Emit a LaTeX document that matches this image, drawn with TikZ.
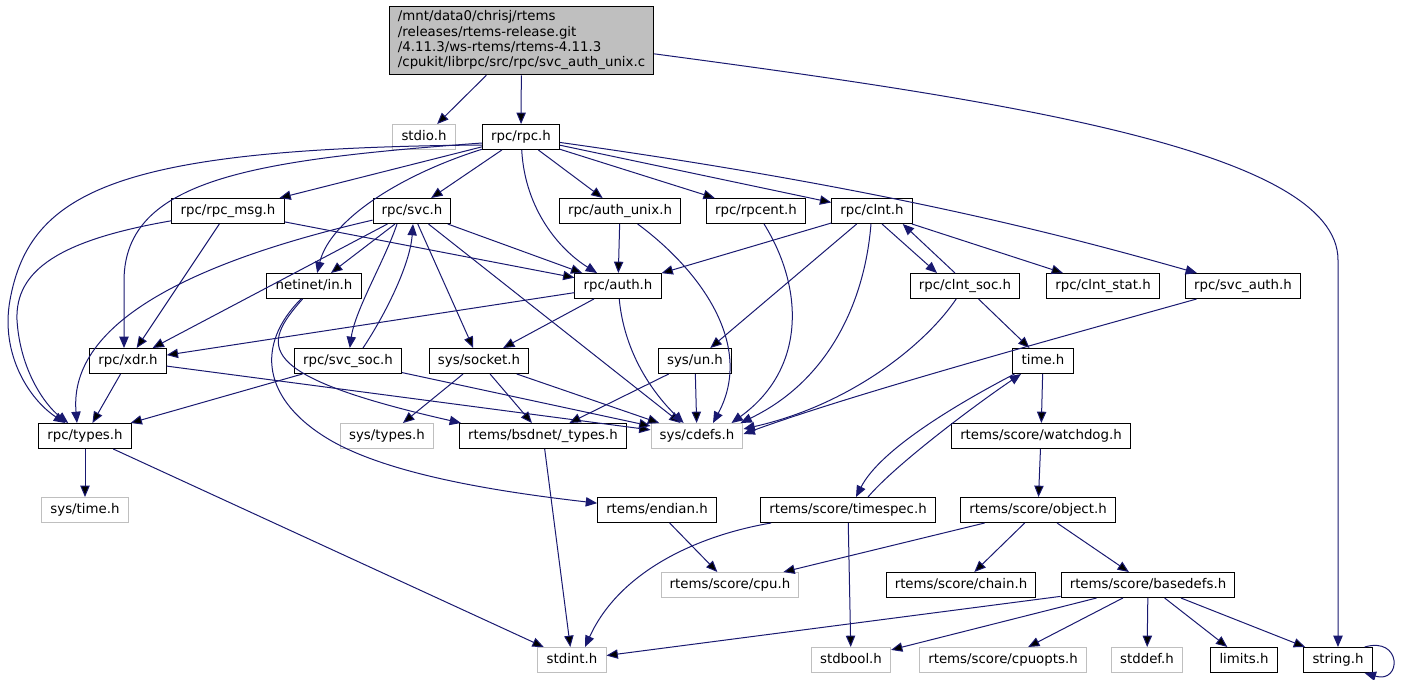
\documentclass[tikz,border=0pt]{standalone}
\usepackage{fontspec}
\setmainfont{DejaVu Sans}
\usetikzlibrary{arrows.meta,calc}
\definecolor{linkblue}{RGB}{25,25,112}
\definecolor{boxgray}{RGB}{191,191,191}

\begin{document}
\begin{tikzpicture}[x=0.75pt,y=-0.75pt,
    filebox/.style={draw=black,line width=0.75pt,fill=white,inner xsep=6.5pt,inner ysep=0pt,
        minimum height=18.75pt,text height=7.6pt,text depth=2.4pt,font=\fontsize{10}{12}\selectfont},
    sysbox/.style={filebox,draw=boxgray},
    srcbox/.style={draw=black,line width=0.75pt,fill=boxgray,align=left,inner xsep=6.5pt,
        inner ysep=3.5pt,font=\fontsize{10}{11.5}\selectfont},
    dep/.style={draw=linkblue,line width=0.75pt,-{Triangle[length=8.5pt,width=7pt]}}]
    \useasboundingbox (0,0) rectangle (1404,679);

    % files
    \node[srcbox] (main) at (521.5,40.5) {/mnt/data0/chrisj/rtems\\/releases/rtems-release.git\\/4.11.3/ws-rtems/rtems-4.11.3\\/cpukit/librpc/src/rpc/svc\_auth\_unix.c};
    \node[sysbox] (stdio) at (424,137) {stdio.h};
    \node[filebox] (rpc) at (521,137) {rpc/rpc.h};
    \node[filebox] (rpcmsg) at (228,211) {rpc/rpc\_msg.h};
    \node[filebox] (svc) at (412,211) {rpc/svc.h};
    \node[filebox] (authunix) at (620,211) {rpc/auth\_unix.h};
    \node[filebox] (rpcent) at (756,211) {rpc/rpcent.h};
    \node[filebox] (clnt) at (872,211) {rpc/clnt.h};
    \node[filebox] (netin) at (314,286) {netinet/in.h};
    \node[filebox] (auth) at (618,286) {rpc/auth.h};
    \node[filebox] (clntsoc) at (965,286) {rpc/clnt\_soc.h};
    \node[filebox] (clntstat) at (1103,286) {rpc/clnt\_stat.h};
    \node[filebox] (svcauth) at (1243,286) {rpc/svc\_auth.h};
    \node[filebox] (xdr) at (128,361) {rpc/xdr.h};
    \node[filebox] (svcsoc) at (348,361) {rpc/svc\_soc.h};
    \node[filebox] (socket) at (479,361) {sys/socket.h};
    \node[filebox] (un) at (695,361) {sys/un.h};
    \node[filebox] (time) at (1043,361) {time.h};
    \node[filebox] (types) at (85,436) {rpc/types.h};
    \node[sysbox] (systypes) at (387,436) {sys/types.h};
    \node[filebox] (bsdtypes) at (543,436) {rtems/bsdnet/\_types.h};
    \node[sysbox] (cdefs) at (697,436) {sys/cdefs.h};
    \node[filebox] (watchdog) at (1041,436) {rtems/score/watchdog.h};
    \node[sysbox] (systime) at (85,510) {sys/time.h};
    \node[filebox] (endian) at (657,510) {rtems/endian.h};
    \node[filebox] (timespec) at (848,510) {rtems/score/timespec.h};
    \node[filebox] (object) at (1038,510) {rtems/score/object.h};
    \node[sysbox] (cpu) at (730,585) {rtems/score/cpu.h};
    \node[filebox] (chain) at (961,585) {rtems/score/chain.h};
    \node[filebox] (basedefs) at (1148,585) {rtems/score/basedefs.h};
    \node[sysbox] (stdint) at (572,660) {stdint.h};
    \node[sysbox] (stdbool) at (851,660) {stdbool.h};
    \node[sysbox] (cpuopts) at (1003,660) {rtems/score/cpuopts.h};
    \node[sysbox] (stddef) at (1147,660) {stddef.h};
    \node[filebox] (limits) at (1244,660) {limits.h};
    \node[filebox] (string) at (1338,660) {string.h};

    % includes
    \path[dep] (main) edge (stdio) edge (rpc);
    \draw[dep] ([yshift=-10pt]main.east) .. controls (1000,100) and (1338,150) .. (1338,260) -- (string);

    \path[dep] (rpc) edge (rpcmsg) edge (svc) edge (authunix) edge (rpcent) edge (clnt);
    \draw[dep] ($(rpc.west)+(0,8)$) .. controls (120,148) and (30,190) .. (10,300) .. controls (0,355) and (30,400) .. (types);
    \draw[dep] ($(rpc.west)+(0,6)$) .. controls (250,160) and (125,180) .. (124,280) -- ($(xdr.north)+(-4,0)$);
    \draw[dep] (rpc) .. controls (400,175) and (330,220) .. (netin);
    \draw[dep] (rpc) .. controls (525,210) and (560,250) .. (auth);
    \draw[dep] (rpc) .. controls (900,190) and (1080,240) .. (svcauth);

    \path[dep] (rpcmsg) edge (xdr) edge (auth);
    \draw[dep] (rpcmsg) .. controls (60,240) and (15,270) .. (17,320) .. controls (20,370) and (45,405) .. (types);

    \path[dep] (svc) edge (xdr) edge (netin) edge (auth) edge (socket) edge (cdefs);
    \draw[dep] (svc) .. controls (200,260) and (68,320) .. ($(types.north)+(-8,0)$);
    \draw[dep] ($(svc.south)+(-15,0)$) .. controls (385,260) and (355,310) .. (svcsoc);
    \draw[dep] ($(svcsoc.north)+(15,0)$) .. controls (385,315) and (410,265) .. ($(svc.south)+(1,0)$);

    \path[dep] (authunix) edge (auth);
    \draw[dep] (authunix) .. controls (700,270) and (755,345) .. ($(cdefs.north)+(16,0)$);
    \draw[dep] (rpcent) .. controls (805,290) and (805,370) .. ($(cdefs.north east)+(-12,0)$);

    \path[dep] (clnt) edge (auth) edge (un) edge (clntstat);
    \draw[dep] ($(clnt.south)+(10,0)$) -- ($(clntsoc.north)+(-28,0)$);
    \draw[dep] (clnt) .. controls (865,300) and (830,380) .. ($(cdefs.north east)+(-3,0)$);

    \draw[dep] ($(clntsoc.north)+(-10,0)$) -- ($(clnt.south east)+(-10,0)$);
    \path[dep] (clntsoc) edge (time);
    \draw[dep] (clntsoc) .. controls (925,345) and (850,405) .. ($(cdefs.east)+(0,-7)$);
    \draw[dep] (svcauth) .. controls (1050,340) and (850,395) .. ($(cdefs.east)+(0,-2)$);

    \path[dep] (auth) edge (xdr) edge (socket);
    \draw[dep] (auth) .. controls (625,360) and (660,400) .. (cdefs);

    \path[dep] (xdr) edge (types) edge (cdefs);
    \path[dep] (svcsoc) edge (types) edge (cdefs);

    \draw[dep] (netin) .. controls (262,345) and (250,375) .. ($(bsdtypes.north west)+(2,0)$);
    \draw[dep] (netin) .. controls (255,345) and (262,400) .. (330,440) .. controls (390,475) and (500,492) .. (endian);

    \path[dep] (socket) edge (systypes) edge (bsdtypes) edge (cdefs);
    \path[dep] (un) edge (bsdtypes) edge (cdefs);

    \path[dep] (time) edge (watchdog);
    \draw[dep] ($(time.south west)+(2,0)$) .. controls (955,405) and (880,450) .. ($(timespec.north)+(8,0)$);
    \draw[dep] ($(timespec.north)+(20,0)$) .. controls (895,465) and (975,405) .. ($(time.south)+(-22,0)$);

    \path[dep] (watchdog) edge (object);
    \path[dep] (object) edge (cpu) edge (chain) edge (basedefs);
    \path[dep] (endian) edge (cpu);
    \path[dep] (timespec) edge (stdbool);
    \draw[dep] ($(timespec.south west)+(11,0)$) .. controls (700,535) and (620,570) .. ($(stdint.north)+(13,0)$);
    \path[dep] (bsdtypes) edge (stdint);
    \path[dep] (types) edge (systime) edge (stdint);
    \path[dep] (basedefs) edge (stdint) edge (stdbool) edge (cpuopts) edge (stddef) edge (limits) edge (string);
    \draw[dep] ($(string.north east)+(-8,0)$) .. controls (1402,636) and (1402,684) .. ($(string.south east)+(-8,0)$);
\end{tikzpicture}
\end{document}
